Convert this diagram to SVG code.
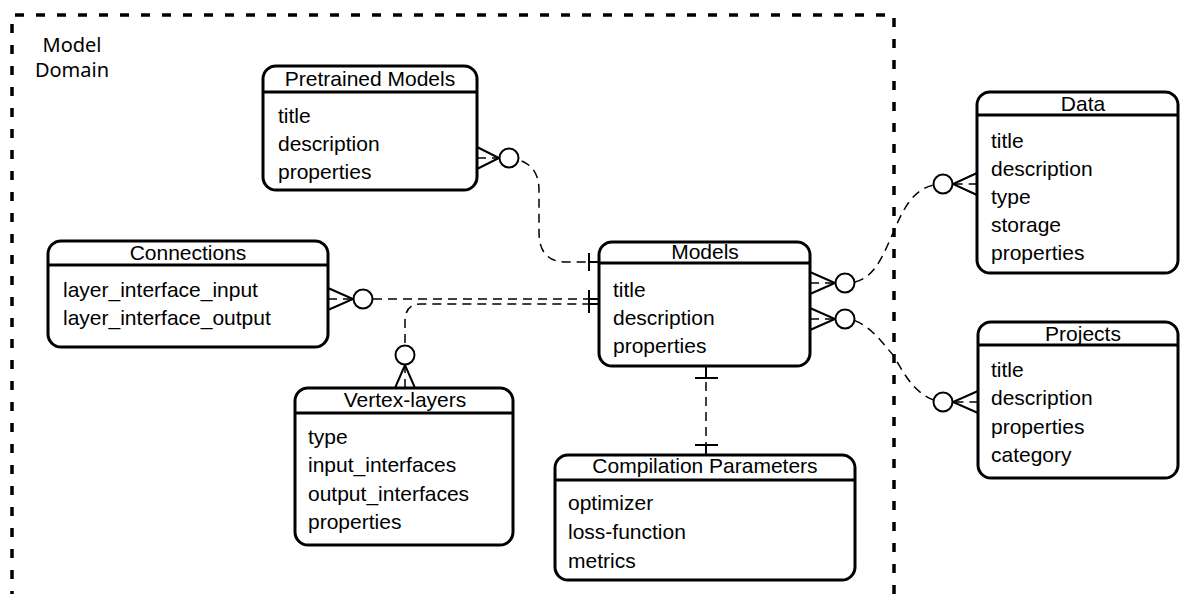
<svg xmlns="http://www.w3.org/2000/svg" width="1180" height="594" viewBox="0 0 1180 594">
<style>
.box{fill:#fff;stroke:#000;stroke-width:3}
.hdr{stroke:#000;stroke-width:3}
.t{font-family:"Liberation Sans",Arial,Helvetica,sans-serif;font-size:21px;fill:#000}
.ttl{text-anchor:middle}
.conn{fill:none;stroke:#000;stroke-width:1.5;stroke-dasharray:9 6}
.mk{fill:none;stroke:#000;stroke-width:2}
.circ{fill:#fff;stroke:#000;stroke-width:2}
.frame{fill:none;stroke:#000;stroke-width:3.5;stroke-dasharray:9 12}
.lbl{font-family:"Noto Sans","Open Sans",sans-serif;font-size:20px;fill:#000;text-anchor:middle}
</style>
<rect width="1180" height="594" fill="#fff"/>
<g id="model-domain">
<path class="frame" d="M12,600 L12,15 L894,15 L894,600"/>
<text class="lbl" x="72" y="52">Model</text>
<text class="lbl" x="72" y="77">Domain</text>
</g>
<g id="connectors">
<!-- Pretrained -> Models -->
<path class="conn" d="M477,158 L509,158 C530,160 539,172 539,190 L539,232 C539,252 548,262 566,262 L599,262"/>
<path class="mk" d="M477,147 L499,158 L477,169"/>
<circle class="circ" cx="509" cy="158" r="9.5"/>
<path class="mk" d="M589,253 L589,271 M589,262 L599,262"/>
<!-- Connections -> Models -->
<path class="conn" d="M328,299 L599,299"/>
<path class="mk" d="M328,288 L353,299 L328,310"/>
<circle class="circ" cx="363" cy="299" r="9.5"/>
<!-- Vertex-layers -> Models -->
<path class="conn" d="M405,388 L405,322 C405,311 409,304 420,304 L599,304"/>
<path class="mk" d="M395,388 L405,365 L415,388"/>
<circle class="circ" cx="405" cy="355" r="9.5"/>
<path class="mk" d="M589,290 L589,313 M589,299 L599,299 M589,304 L599,304"/>
<!-- Models -> Data -->
<path class="conn" d="M810,283 L850,283 C875,280 883,255 893,233 C903,210 913,186 940,184 L977,184"/>
<path class="mk" d="M810,272 L835,283 L810,294"/>
<circle class="circ" cx="845" cy="283" r="9.5"/>
<path class="mk" d="M977,173 L953,184 L977,195"/>
<circle class="circ" cx="943" cy="184" r="9.5"/>
<!-- Models -> Projects -->
<path class="conn" d="M810,319 L850,319 C870,325 880,340 893,355 C905,375 915,396 940,402 L978,402"/>
<path class="mk" d="M810,308 L835,319 L810,330"/>
<circle class="circ" cx="845" cy="319" r="9.5"/>
<path class="mk" d="M978,391 L953,402 L978,413"/>
<circle class="circ" cx="943" cy="402" r="9.5"/>
<!-- Models -> Compilation Parameters -->
<path class="conn" d="M706,367 L706,455"/>
<path class="mk" d="M706,367 L706,378 M695,378 L718,378 M695,445 L718,445 M706,445 L706,455"/>
</g>
<g id="pretrained-models">
<rect class="box" x="263" y="66" width="214" height="124" rx="13"/>
<line class="hdr" x1="263" y1="92" x2="477" y2="92"/>
<text class="t ttl" x="370" y="86">Pretrained Models</text>
<text class="t" x="278" y="123">title</text>
<text class="t" x="278" y="151">description</text>
<text class="t" x="278" y="179">properties</text>
</g>
<g id="connections">
<rect class="box" x="48" y="241" width="280" height="106" rx="13"/>
<line class="hdr" x1="48" y1="265" x2="328" y2="265"/>
<text class="t ttl" x="188" y="260">Connections</text>
<text class="t" x="63" y="297">layer_interface_input</text>
<text class="t" x="63" y="325">layer_interface_output</text>
</g>
<g id="models">
<rect class="box" x="599" y="242" width="211" height="124" rx="13"/>
<line class="hdr" x1="599" y1="263" x2="810" y2="263"/>
<text class="t ttl" x="705" y="259">Models</text>
<text class="t" x="613" y="297">title</text>
<text class="t" x="613" y="325">description</text>
<text class="t" x="613" y="353">properties</text>
</g>
<g id="data">
<rect class="box" x="977" y="92" width="201" height="181" rx="13"/>
<line class="hdr" x1="977" y1="115" x2="1178" y2="115"/>
<text class="t ttl" x="1083" y="111">Data</text>
<text class="t" x="991" y="148">title</text>
<text class="t" x="991" y="176">description</text>
<text class="t" x="991" y="204">type</text>
<text class="t" x="991" y="232">storage</text>
<text class="t" x="991" y="260">properties</text>
</g>
<g id="projects">
<rect class="box" x="978" y="322" width="200" height="156" rx="13"/>
<line class="hdr" x1="978" y1="345" x2="1178" y2="345"/>
<text class="t ttl" x="1083" y="341">Projects</text>
<text class="t" x="991" y="377">title</text>
<text class="t" x="991" y="405">description</text>
<text class="t" x="991" y="434">properties</text>
<text class="t" x="991" y="462">category</text>
</g>
<g id="vertex-layers">
<rect class="box" x="295" y="388" width="218" height="157" rx="13"/>
<line class="hdr" x1="295" y1="413" x2="513" y2="413"/>
<text class="t ttl" x="405" y="407">Vertex-layers</text>
<text class="t" x="308" y="444">type</text>
<text class="t" x="308" y="472">input_interfaces</text>
<text class="t" x="308" y="501">output_interfaces</text>
<text class="t" x="308" y="529">properties</text>
</g>
<g id="compilation-parameters">
<rect class="box" x="555" y="455" width="300" height="125" rx="13"/>
<line class="hdr" x1="555" y1="480" x2="855" y2="480"/>
<text class="t ttl" x="705" y="473">Compilation Parameters</text>
<text class="t" x="568" y="510">optimizer</text>
<text class="t" x="568" y="539">loss-function</text>
<text class="t" x="568" y="568">metrics</text>
</g>
</svg>
